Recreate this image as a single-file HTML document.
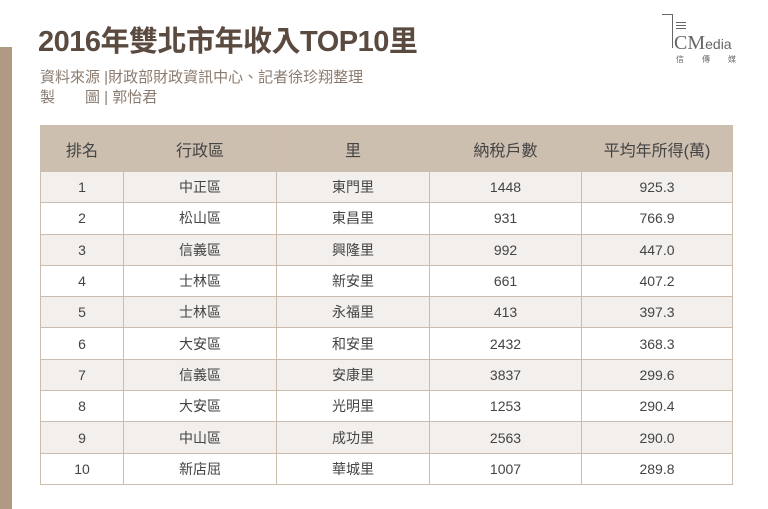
<!DOCTYPE html>
<html><head><meta charset="utf-8"><style>
body{margin:0;width:768px;height:509px;background:#fff;position:relative;overflow:hidden;font-family:"Liberation Sans","Noto Sans CJK TC",sans-serif;}
.bar{position:absolute;left:0;top:47px;width:12px;height:462px;background:#b09a84;}
h1{position:absolute;left:38px;top:18px;margin:0;font-size:29px;font-weight:bold;color:#5a4a3f;letter-spacing:-0.5px;}
.src{position:absolute;left:40px;top:68px;font-size:15px;line-height:20px;color:#8a7a6e;}
.logo{position:absolute;left:662px;top:14px;width:100px;height:50px;color:#666;}
table{position:absolute;left:40px;top:125px;border-collapse:collapse;width:693px;}
td,th{border:1px solid #cbbcae;text-align:center;font-size:14px;color:#444;font-weight:normal;padding:0;}
th{background:#cdbfb0;height:45px;font-size:16px;color:#444;}
td{height:30.3px;}
tr:nth-child(even) td{background:#f3efec;}
</style></head><body>
<div class="bar"></div>
<h1>2016年雙北市年收入TOP10里</h1>
<div class="src">資料來源 |財政部財政資訊中心、記者徐珍翔整理<br>製　　圖 | 郭怡君</div>
<div class="logo">
<div style="position:absolute;left:0;top:0;width:10px;height:1px;background:#666"></div>
<div style="position:absolute;left:10px;top:0;width:1px;height:34px;background:#666"></div>
<div style="position:absolute;left:14px;top:8px;width:10px;height:1px;background:#666;box-shadow:0 3px #666,0 6px #666"></div>
<div style="position:absolute;left:12px;top:18px;font-size:20px;font-family:'Liberation Serif',serif">CM<span style="font-size:14px;font-family:'Liberation Sans',sans-serif">edia</span></div>
<div style="position:absolute;left:14px;top:40px;font-size:8px;letter-spacing:18px">信傳媒</div>
</div>
<table>
<tr><th style="width:82px">排名</th><th style="width:152px">行政區</th><th style="width:152px">里</th><th style="width:151px">納稅戶數</th><th>平均年所得(萬)</th></tr>
<tr><td>1</td><td>中正區</td><td>東門里</td><td>1448</td><td>925.3</td></tr>
<tr><td>2</td><td>松山區</td><td>東昌里</td><td>931</td><td>766.9</td></tr>
<tr><td>3</td><td>信義區</td><td>興隆里</td><td>992</td><td>447.0</td></tr>
<tr><td>4</td><td>士林區</td><td>新安里</td><td>661</td><td>407.2</td></tr>
<tr><td>5</td><td>士林區</td><td>永福里</td><td>413</td><td>397.3</td></tr>
<tr><td>6</td><td>大安區</td><td>和安里</td><td>2432</td><td>368.3</td></tr>
<tr><td>7</td><td>信義區</td><td>安康里</td><td>3837</td><td>299.6</td></tr>
<tr><td>8</td><td>大安區</td><td>光明里</td><td>1253</td><td>290.4</td></tr>
<tr><td>9</td><td>中山區</td><td>成功里</td><td>2563</td><td>290.0</td></tr>
<tr><td>10</td><td>新店屈</td><td>華城里</td><td>1007</td><td>289.8</td></tr>
</table>
</body></html>
